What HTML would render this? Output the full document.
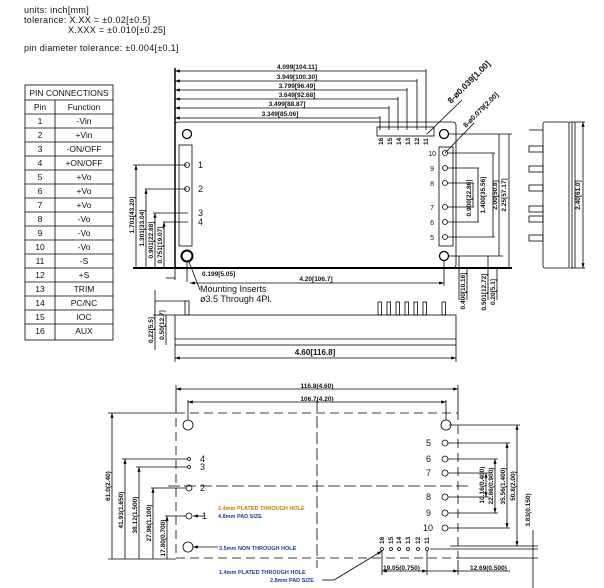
<!DOCTYPE html>
<html><head><meta charset="utf-8"><style>
html,body{margin:0;padding:0;background:#fff;width:604px;height:588px;overflow:hidden}
svg{display:block;font-family:"Liberation Sans",sans-serif}
.t{font-size:9px;fill:#111}
.d{font-size:6.5px;fill:#111;font-weight:bold}
.tb{font-size:8.5px;fill:#111}
</style></head><body>
<svg width="604" height="588" viewBox="0 0 604 588" xmlns="http://www.w3.org/2000/svg">
<defs>
<marker id="a" markerWidth="6" markerHeight="4" refX="6" refY="2" orient="auto-start-reverse"><path d="M0,0 L6,2 L0,4z" fill="#000"/></marker>
</defs>
<g class="t" font-size="9.5" letter-spacing="0.3">
<text x="24" y="13">units: inch[mm]</text>
<text x="24" y="23">tolerance: X.XX = ±0.02[±0.5]</text>
<text x="68" y="33">X.XXX = ±0.010[±0.25]</text>
<text x="24" y="51">pin diameter tolerance: ±0.004[±0.1]</text>
</g>
<!-- table -->
<g stroke="#000" stroke-width="0.8" fill="none">
<rect x="25" y="85" width="88" height="255"/>
<line x1="25" y1="100" x2="113" y2="100"/>
<line x1="55" y1="100" x2="55" y2="340"/>
<line x1="25" y1="114" x2="113" y2="114"/>
<line x1="25" y1="128" x2="113" y2="128"/><line x1="25" y1="142" x2="113" y2="142"/>
<line x1="25" y1="156" x2="113" y2="156"/><line x1="25" y1="170" x2="113" y2="170"/>
<line x1="25" y1="184" x2="113" y2="184"/><line x1="25" y1="198" x2="113" y2="198"/>
<line x1="25" y1="212" x2="113" y2="212"/><line x1="25" y1="226" x2="113" y2="226"/>
<line x1="25" y1="240" x2="113" y2="240"/><line x1="25" y1="254" x2="113" y2="254"/>
<line x1="25" y1="268" x2="113" y2="268"/><line x1="25" y1="282" x2="113" y2="282"/>
<line x1="25" y1="296" x2="113" y2="296"/><line x1="25" y1="310" x2="113" y2="310"/>
<line x1="25" y1="324" x2="113" y2="324"/>
</g>
<g class="tb" text-anchor="middle">
<text x="69" y="96">PIN CONNECTIONS</text>
<text x="40" y="110">Pin</text><text x="84" y="110">Function</text>
<text x="40" y="124">1</text><text x="84" y="124">-Vin</text>
<text x="40" y="138">2</text><text x="84" y="138">+Vin</text>
<text x="40" y="152">3</text><text x="84" y="152">-ON/OFF</text>
<text x="40" y="166">4</text><text x="84" y="166">+ON/OFF</text>
<text x="40" y="180">5</text><text x="84" y="180">+Vo</text>
<text x="40" y="194">6</text><text x="84" y="194">+Vo</text>
<text x="40" y="208">7</text><text x="84" y="208">+Vo</text>
<text x="40" y="222">8</text><text x="84" y="222">-Vo</text>
<text x="40" y="236">9</text><text x="84" y="236">-Vo</text>
<text x="40" y="250">10</text><text x="84" y="250">-Vo</text>
<text x="40" y="264">11</text><text x="84" y="264">-S</text>
<text x="40" y="278">12</text><text x="84" y="278">+S</text>
<text x="40" y="292">13</text><text x="84" y="292">TRIM</text>
<text x="40" y="306">14</text><text x="84" y="306">PC/NC</text>
<text x="40" y="320">15</text><text x="84" y="320">IOC</text>
<text x="40" y="334">16</text><text x="84" y="334">AUX</text>
</g>

<!-- top view -->
<g stroke="#000" fill="none" stroke-width="0.8">
<rect x="175" y="122" width="281" height="146" rx="3"/>
<line x1="133" y1="268" x2="512" y2="268" stroke-width="2"/>
<line x1="175" y1="68" x2="175" y2="268" stroke-width="1.5"/>
<line x1="175" y1="71" x2="426" y2="71" marker-start="url(#a)"/><line x1="426" y1="69" x2="426" y2="130"/>
<line x1="175" y1="81" x2="417" y2="81" marker-start="url(#a)"/><line x1="417" y1="79" x2="417" y2="130"/>
<line x1="175" y1="90" x2="407" y2="90" marker-start="url(#a)"/><line x1="407" y1="88" x2="407" y2="130"/>
<line x1="175" y1="99" x2="398" y2="99" marker-start="url(#a)"/><line x1="398" y1="97" x2="398" y2="130"/>
<line x1="175" y1="108" x2="389" y2="108" marker-start="url(#a)"/><line x1="389" y1="106" x2="389" y2="130"/>
<line x1="175" y1="118" x2="380" y2="118" marker-start="url(#a)"/><line x1="380" y1="116" x2="380" y2="130"/>
<rect x="377" y="127" width="57" height="9"/>
<circle cx="187" cy="134" r="4.5" stroke-width="1.3"/>
<circle cx="187" cy="256" r="5.5" stroke-width="2"/>
<circle cx="444" cy="134" r="4.5" stroke-width="1.3"/>
<circle cx="444" cy="256" r="4.5" stroke-width="1.3"/>
<rect x="179" y="145" width="13" height="101"/>
<circle cx="187" cy="165" r="2.5"/><circle cx="187" cy="189" r="2.5"/>
<rect x="439" y="147" width="14" height="99"/>
<circle cx="445" cy="153" r="2.5"/><circle cx="445" cy="168" r="2.5"/><circle cx="445" cy="183" r="2.5"/>
<circle cx="445" cy="207" r="2.5"/><circle cx="445" cy="222" r="2.5"/><circle cx="445" cy="237" r="2.5"/>
<line x1="133" y1="165" x2="187" y2="165"/><line x1="136" y1="165" x2="136" y2="268" marker-start="url(#a)"/>
<line x1="145" y1="189" x2="187" y2="189"/><line x1="146" y1="189" x2="146" y2="268" marker-start="url(#a)"/>
<line x1="153" y1="213" x2="188" y2="213"/><line x1="155" y1="213" x2="155" y2="268" marker-start="url(#a)"/>
<line x1="163" y1="222" x2="188" y2="222"/><line x1="164" y1="222" x2="164" y2="268" marker-start="url(#a)"/>
<line x1="175" y1="268" x2="175" y2="280"/>
<line x1="187" y1="261" x2="187" y2="282"/>
<line x1="166" y1="278" x2="175" y2="278"/>
<line x1="190" y1="283" x2="444" y2="283" marker-start="url(#a)" marker-end="url(#a)"/>
<line x1="444" y1="260" x2="444" y2="286"/>
<line x1="189" y1="262" x2="200" y2="290"/>
<line x1="448" y1="134" x2="512" y2="134"/><line x1="448" y1="256" x2="503" y2="256"/>
<line x1="448" y1="153" x2="495" y2="153"/><line x1="448" y1="237" x2="495" y2="237"/>
<line x1="448" y1="168" x2="479" y2="168"/><line x1="448" y1="222" x2="479" y2="222"/>
<line x1="448" y1="183" x2="474" y2="183"/><line x1="448" y1="207" x2="474" y2="207"/>
<line x1="473" y1="183" x2="473" y2="207"/><line x1="478" y1="168" x2="478" y2="222"/>
<line x1="493" y1="153" x2="493" y2="237"/><line x1="499" y1="134" x2="499" y2="256"/>
<line x1="509" y1="134" x2="509" y2="268"/>
<line x1="459" y1="256" x2="459" y2="300"/><line x1="467" y1="268" x2="467" y2="300"/>
<line x1="488" y1="256" x2="488" y2="300"/><line x1="497" y1="268" x2="497" y2="300"/>
<line x1="427" y1="134" x2="462" y2="100"/><line x1="445" y1="153" x2="474" y2="123"/>
<rect x="543" y="122" width="26" height="146" rx="2"/>
<line x1="572" y1="122" x2="572" y2="268"/><line x1="575" y1="122" x2="575" y2="268"/>
<line x1="569" y1="122" x2="585" y2="122"/><line x1="569" y1="268" x2="585" y2="268"/>
<line x1="583" y1="122" x2="583" y2="268" marker-start="url(#a)" marker-end="url(#a)"/>
<line x1="529" y1="130" x2="543" y2="130"/>
<rect x="529" y="146" width="14" height="6"/><rect x="529" y="166" width="14" height="6"/>
<rect x="529" y="185" width="14" height="6"/><rect x="529" y="206" width="14" height="6"/>
<rect x="529" y="216" width="14" height="6"/><rect x="529" y="235" width="14" height="6"/>
<rect x="175" y="315" width="281" height="30"/>
<line x1="175" y1="339" x2="456" y2="339"/>
<rect x="185" y="301" width="4" height="14"/>
<rect x="378" y="302" width="3.5" height="13"/><rect x="387" y="302" width="3.5" height="13"/>
<rect x="396" y="302" width="3.5" height="13"/><rect x="405" y="302" width="3.5" height="13"/>
<rect x="414" y="302" width="3.5" height="13"/><rect x="423" y="302" width="3.5" height="13"/>
<rect x="442" y="302" width="3.5" height="13"/>
<line x1="155" y1="301" x2="185" y2="301"/><line x1="153" y1="315" x2="175" y2="315"/>
<line x1="155" y1="290" x2="155" y2="350"/><line x1="166" y1="315" x2="166" y2="345"/>
<line x1="175" y1="345" x2="175" y2="362"/><line x1="456" y1="345" x2="456" y2="362"/>
<line x1="175" y1="358" x2="456" y2="358" marker-start="url(#a)" marker-end="url(#a)"/>
</g>
<g class="d">
<text x="297" y="69" text-anchor="middle">4.099[104.11]</text>
<text x="297" y="79" text-anchor="middle">3.949[100.30]</text>
<text x="297" y="88" text-anchor="middle">3.799[96.49]</text>
<text x="297" y="97" text-anchor="middle">3.649[92.68]</text>
<text x="287" y="106" text-anchor="middle">3.499[88.87]</text>
<text x="280" y="116" text-anchor="middle">3.349[85.06]</text>
<text x="202" y="276">0.199[5.05]</text>
<text x="316" y="281" text-anchor="middle">4.20[106.7]</text>
<text x="315" y="355" text-anchor="middle" font-size="8">4.60[116.8]</text>
<text transform="translate(134,215) rotate(-90)" text-anchor="middle">1.701[43.20]</text>
<text transform="translate(144,228) rotate(-90)" text-anchor="middle">1.301[33.04]</text>
<text transform="translate(153,240) rotate(-90)" text-anchor="middle">0.901[22.88]</text>
<text transform="translate(162,245) rotate(-90)" text-anchor="middle">0.751[19.07]</text>
<text transform="translate(471,198) rotate(-90)" text-anchor="middle">0.900[22.86]</text>
<text transform="translate(485,195) rotate(-90)" text-anchor="middle">1.400[35.56]</text>
<text transform="translate(497,195) rotate(-90)" text-anchor="middle">2.00[50.8]</text>
<text transform="translate(506,195) rotate(-90)" text-anchor="middle">2.25[57.17]</text>
<text transform="translate(580,195) rotate(-90)" text-anchor="middle">2.40[61.0]</text>
<text transform="translate(465,291) rotate(-90)" text-anchor="middle">0.400[10.16]</text>
<text transform="translate(486,292) rotate(-90)" text-anchor="middle">0.501[12.72]</text>
<text transform="translate(495,292) rotate(-90)" text-anchor="middle">0.20[5.1]</text>
<text transform="translate(164,325) rotate(-90)" text-anchor="middle">0.50[12.7]</text>
<text transform="translate(153,330) rotate(-90)" text-anchor="middle">0.22[5.5]</text>
<text transform="translate(451,104) rotate(-45)" font-size="8.5">8-ø0.039[1.00]</text>
<text transform="translate(466,128) rotate(-45)" font-size="7">8-ø0.079[2.00]</text>
</g>
<g class="t" font-size="8">
<text x="200" y="292">Mounting Inserts</text>
<text x="200" y="302">ø3.5 Through 4Pl.</text>
<text x="198" y="168">1</text><text x="198" y="192">2</text><text x="198" y="216">3</text><text x="198" y="225">4</text>
<g text-anchor="end" font-size="7"><text x="436" y="156">10</text><text x="434" y="171">9</text><text x="434" y="186">8</text><text x="434" y="210">7</text><text x="434" y="225">6</text><text x="434" y="240">5</text></g>
</g>
<g class="d" font-size="5.5">
<text transform="translate(383,145) rotate(-90)">16</text><text transform="translate(392,145) rotate(-90)">15</text>
<text transform="translate(401,145) rotate(-90)">14</text><text transform="translate(410,145) rotate(-90)">13</text>
<text transform="translate(419,145) rotate(-90)">12</text><text transform="translate(428,145) rotate(-90)">11</text>
</g>

<!-- bottom footprint -->
<g stroke="#000" fill="none" stroke-width="0.8">
<rect x="176" y="413" width="282" height="145" stroke-dasharray="9,5"/>
<line x1="317" y1="400" x2="317" y2="568" stroke-dasharray="12,4"/>
<line x1="168" y1="486" x2="470" y2="486" stroke-dasharray="12,4"/>
<line x1="176" y1="385" x2="176" y2="413"/><line x1="458" y1="385" x2="458" y2="413"/>
<line x1="176" y1="389" x2="458" y2="389" marker-start="url(#a)" marker-end="url(#a)"/>
<line x1="188" y1="400" x2="188" y2="420"/><line x1="446" y1="400" x2="446" y2="420"/>
<line x1="188" y1="402" x2="446" y2="402" marker-start="url(#a)" marker-end="url(#a)"/>
<circle cx="188" cy="425" r="5"/><circle cx="446" cy="425" r="5"/><circle cx="188" cy="547" r="5"/>
<circle cx="189" cy="459" r="1.5"/><circle cx="189" cy="467" r="1.5"/>
<circle cx="189" cy="488" r="3"/><circle cx="189" cy="516" r="3"/>
<circle cx="445" cy="443" r="3"/><circle cx="445" cy="459" r="3"/><circle cx="445" cy="473" r="3"/>
<circle cx="445" cy="497" r="3"/><circle cx="445" cy="513" r="3"/><circle cx="445" cy="528" r="3"/>
<circle cx="382" cy="549" r="1.5"/><circle cx="391" cy="549" r="1.5"/><circle cx="399" cy="549" r="1.5"/>
<circle cx="408" cy="549" r="1.5"/><circle cx="418" cy="549" r="1.5"/><circle cx="427" cy="549" r="1.5"/>
<line x1="108" y1="413" x2="176" y2="413"/><line x1="112" y1="413" x2="112" y2="559" marker-start="url(#a)"/>
<line x1="122" y1="459" x2="187" y2="459"/><line x1="125" y1="459" x2="125" y2="559" marker-start="url(#a)"/>
<line x1="136" y1="467" x2="187" y2="467"/><line x1="139" y1="467" x2="139" y2="559" marker-start="url(#a)"/>
<line x1="151" y1="488" x2="186" y2="488"/><line x1="153" y1="488" x2="153" y2="559" marker-start="url(#a)"/>
<line x1="165" y1="516" x2="186" y2="516"/><line x1="167" y1="516" x2="167" y2="559" marker-start="url(#a)"/>
<line x1="108" y1="559" x2="176" y2="559"/>
<line x1="193" y1="516" x2="205" y2="516" marker-start="url(#a)"/>
<line x1="193" y1="547" x2="218" y2="547" marker-start="url(#a)"/>
<line x1="322" y1="580" x2="334" y2="580"/>
<line x1="334" y1="580" x2="382" y2="551" marker-end="url(#a)"/>
<line x1="449" y1="425" x2="520" y2="425"/><line x1="517" y1="425" x2="517" y2="546" marker-start="url(#a)" marker-end="url(#a)"/>
<line x1="448" y1="443" x2="510" y2="443"/><line x1="507" y1="443" x2="507" y2="528" marker-start="url(#a)" marker-end="url(#a)"/>
<line x1="448" y1="459" x2="498" y2="459"/><line x1="495" y1="459" x2="495" y2="513" marker-start="url(#a)" marker-end="url(#a)"/>
<line x1="448" y1="473" x2="489" y2="473"/><line x1="486" y1="473" x2="486" y2="497" marker-start="url(#a)" marker-end="url(#a)"/>
<line x1="448" y1="497" x2="489" y2="497"/><line x1="448" y1="513" x2="498" y2="513"/><line x1="448" y1="528" x2="510" y2="528"/>
<line x1="450" y1="546" x2="538" y2="546"/>
<line x1="430" y1="549" x2="538" y2="549"/>
<line x1="458" y1="558" x2="538" y2="558"/>
<line x1="533" y1="530" x2="533" y2="602"/>
<line x1="382" y1="551" x2="382" y2="575"/><line x1="427" y1="551" x2="427" y2="575"/>
<line x1="458" y1="560" x2="458" y2="575"/>
<line x1="382" y1="571" x2="427" y2="571" marker-start="url(#a)" marker-end="url(#a)"/>
<line x1="427" y1="571" x2="458" y2="571" marker-end="url(#a)"/>
<line x1="458" y1="571" x2="510" y2="571"/>
</g>
<g class="d" font-weight="normal">
<text x="317" y="388" text-anchor="middle">116.8(4.60)</text>
<text x="317" y="401" text-anchor="middle">106.7(4.20)</text>
<text transform="translate(110,486) rotate(-90)" text-anchor="middle">61.0(2.40)</text>
<text transform="translate(123,510) rotate(-90)" text-anchor="middle">41.93(1.650)</text>
<text transform="translate(137,515) rotate(-90)" text-anchor="middle">38.12(1.500)</text>
<text transform="translate(151,523) rotate(-90)" text-anchor="middle">27.96(1.100)</text>
<text transform="translate(165,538) rotate(-90)" text-anchor="middle">17.80(0.700)</text>
<text transform="translate(484,485) rotate(-90)" text-anchor="middle">10.16(0.400)</text>
<text transform="translate(493,486) rotate(-90)" text-anchor="middle">22.86(0.900)</text>
<text transform="translate(505,486) rotate(-90)" text-anchor="middle">35.56(1.400)</text>
<text transform="translate(515,486) rotate(-90)" text-anchor="middle">50.8(2.00)</text>
<text transform="translate(530,510) rotate(-90)" text-anchor="middle">3.83(0.150)</text>
<text x="383" y="570">19.05(0.750)</text>
<text x="470" y="570">12.69(0.500)</text>
</g>
<g font-size="5.5" font-weight="bold">
<text x="218" y="510" fill="#c77a00">2.4mm PLATED THROUGH HOLE</text>
<text x="218" y="518" fill="#1a3fa0">4.8mm PAD SIZE</text>
<text x="219" y="550" fill="#1a3fa0">3.5mm NON THROUGH HOLE</text>
<text x="219" y="574" fill="#1a3fa0">1.4mm PLATED THROUGH HOLE</text>
<text x="270" y="582" fill="#1a3fa0">2.8mm PAD SIZE</text>
</g>
<g class="t" font-size="8">
<text x="200" y="462">4</text><text x="200" y="470">3</text><text x="200" y="491">2</text><text x="202" y="519">1</text>
<text x="431" y="446" text-anchor="end">5</text><text x="431" y="462" text-anchor="end">6</text><text x="431" y="476" text-anchor="end">7</text>
<text x="431" y="500" text-anchor="end">8</text><text x="431" y="516" text-anchor="end">9</text><text x="433" y="531" text-anchor="end">10</text>
</g>
<g class="d" font-size="5" font-weight="normal">
<text transform="translate(384,544) rotate(-90)">16</text><text transform="translate(393,544) rotate(-90)">15</text>
<text transform="translate(401,544) rotate(-90)">14</text><text transform="translate(410,544) rotate(-90)">13</text>
<text transform="translate(420,544) rotate(-90)">12</text><text transform="translate(429,544) rotate(-90)">11</text>
</g>
</svg>
</body></html>
